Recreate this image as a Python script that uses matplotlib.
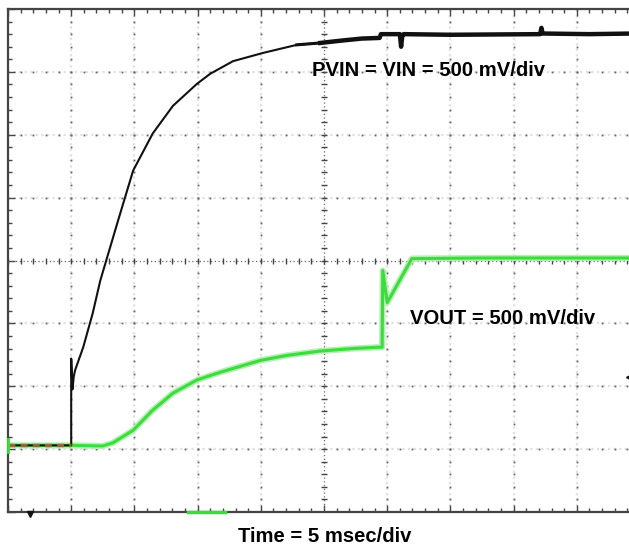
"""Scope capture of a power-up sequence: PVIN/VIN and VOUT, 8x10 division screen."""

import matplotlib
matplotlib.use("Agg")
import matplotlib.pyplot as plt
import numpy as np

# screen coordinates in divisions (x: 0..10, y: 0..8 from the bottom)
PVIN_RISE_T = [0.00, 1.00, 1.00, 1.02, 1.04, 1.06, 1.19, 1.34, 1.46, 1.74, 1.98,
               2.29, 2.61, 2.99, 3.20, 3.56, 4.03, 4.57, 4.94]
PVIN_RISE_V = [1.06, 1.06, 2.44, 1.95, 2.15, 2.25, 2.62, 3.16, 3.68, 4.63, 5.43,
               6.02, 6.46, 6.81, 6.97, 7.17, 7.30, 7.43, 7.46]
PVIN_FLAT_T = [4.57, 4.94, 5.30, 5.60, 5.88, 5.90, 6.20, 6.22, 6.24, 6.26, 7.00,
               8.42, 8.44, 8.46, 9.20, 9.90]
PVIN_FLAT_V = [7.43, 7.46, 7.50, 7.53, 7.54, 7.60, 7.60, 7.40, 7.58, 7.60, 7.59,
               7.60, 7.70, 7.61, 7.60, 7.61]

VOUT_T = [0.00, 1.00, 1.50, 1.66, 1.98, 2.29, 2.61, 2.99, 3.35, 3.72, 3.99,
          4.41, 4.94, 5.46, 5.84, 5.92, 5.93, 6.00, 6.39, 7.50, 9.90]
VOUT_V = [1.06, 1.06, 1.05, 1.10, 1.30, 1.62, 1.89, 2.10, 2.22, 2.33, 2.41,
          2.49, 2.56, 2.60, 2.62, 2.62, 3.84, 3.33, 4.03, 4.04, 4.04]

LABEL_PVIN = "PVIN = VIN = 500 mV/div"
LABEL_VOUT = "VOUT = 500 mV/div"
LABEL_TIME = "Time = 5 msec/div"

N_XDIV = 10
N_YDIV = 8

plt.rcParams["font.family"] = ["Liberation Sans", "DejaVu Sans"]

W, H = 629, 546
fig = plt.figure(figsize=(W / 100, H / 100), dpi=100)
ax = fig.add_axes([8 / W, (H - 512) / H, 632 / W, 503 / H])
ax.set_xlim(0, N_XDIV)
ax.set_ylim(0, N_YDIV)

# graticule: dotted lines with dots every 0.2 div
sub = np.arange(0, N_XDIV + 0.001, 0.2)
suby = np.arange(0, N_YDIV + 0.001, 0.2)
for gx in range(1, N_XDIV):
    if gx == N_XDIV // 2:
        continue
    ax.axvline(gx, color="#e0e0e0", lw=1.6, ls=(0, (1, 1.5)), zorder=1)
    ax.plot(np.full_like(suby, gx), suby, ls="none", marker="s", ms=1.3,
            color="#666666", mew=0, zorder=2)
for gy in range(1, N_YDIV):
    if gy == N_YDIV // 2:
        continue
    ax.axhline(gy, color="#e0e0e0", lw=1.6, ls=(0, (1, 1.5)), zorder=1)
    ax.plot(sub, np.full_like(sub, gy), ls="none", marker="s", ms=1.3,
            color="#666666", mew=0, zorder=2)

# center lines with minor tick marks
cx, cy = N_XDIV / 2, N_YDIV / 2
ax.axvline(cx, color="#666666", lw=0.9, ls=(0, (1, 2)), zorder=2)
ax.axhline(cy, color="#666666", lw=0.9, ls=(0, (1, 2)), zorder=2)
ax.plot(np.full_like(suby, cx), suby, ls="none", marker="_", ms=5,
        color="#444444", mew=1, zorder=2)
ax.plot(sub, np.full_like(sub, cy), ls="none", marker="|", ms=5,
        color="#444444", mew=1, zorder=2)

# edge ticks
ax.set_xticks(range(0, N_XDIV + 1))
ax.set_yticks(range(0, N_YDIV + 1))
ax.set_xticks(sub, minor=True)
ax.set_yticks(suby, minor=True)
ax.tick_params(which="both", direction="in", top=True, bottom=True, left=True,
               right=False, labelbottom=False, labelleft=False, color="#444444")
ax.tick_params(which="major", length=5, width=1)
ax.tick_params(which="minor", length=3, width=1)
for side in ["left", "top", "bottom"]:
    ax.spines[side].set_color("#444444")
    ax.spines[side].set_linewidth(1.6)
ax.spines["right"].set_visible(False)

# traces
green = "#3ddc3d"
ax.plot(VOUT_T, VOUT_V, color="#b4f0b4", lw=4.5, zorder=3, solid_joinstyle="round")
ax.plot(VOUT_T, VOUT_V, color=green, lw=2.2, zorder=4, solid_joinstyle="round")
ax.plot(PVIN_RISE_T, PVIN_RISE_V, color="#111111", lw=1.5, zorder=5)
ax.plot(PVIN_FLAT_T[:3], PVIN_FLAT_V[:3], color="#111111", lw=2.2, zorder=5)
ax.plot(PVIN_FLAT_T[1:], PVIN_FLAT_V[1:], color="#111111", lw=3.2, zorder=5)
# overlapped baseline (both channels at the same level before the ramp)
ax.plot(PVIN_RISE_T[:2], PVIN_RISE_V[:2], color="#8a6a3a", lw=2.5, ls=(0, (2, 1.5)), zorder=5)

# channel / trigger markers
ax.plot([0, 0], [0.96, 1.16], color=green, lw=2, clip_on=False, zorder=6)
ax.plot([2.85, 3.10], [0, 0], color=green, lw=2.5, clip_on=False, zorder=6)
ax.plot([3.15, 3.43], [0, 0], color=green, lw=2.5, clip_on=False, zorder=6)
ax.plot([0.35], [-0.03], marker="v", ms=4, color="#111111", clip_on=False, zorder=6)
ax.plot([9.83], [2.14], marker="<", ms=5, color="#111111", clip_on=False, zorder=6)

ax.text(6.65, 7.02, LABEL_PVIN, fontsize=14.6, fontweight="bold", ha="center",
        va="center", zorder=7)
ax.text(7.82, 3.08, LABEL_VOUT, fontsize=14.6, fontweight="bold", ha="center",
        va="center", zorder=7)
fig.text(325 / W, 1 - 537 / H, LABEL_TIME, fontsize=14.6, fontweight="bold",
         ha="center", va="center")

fig.savefig("out.png", dpi=100)
plt.close(fig)
